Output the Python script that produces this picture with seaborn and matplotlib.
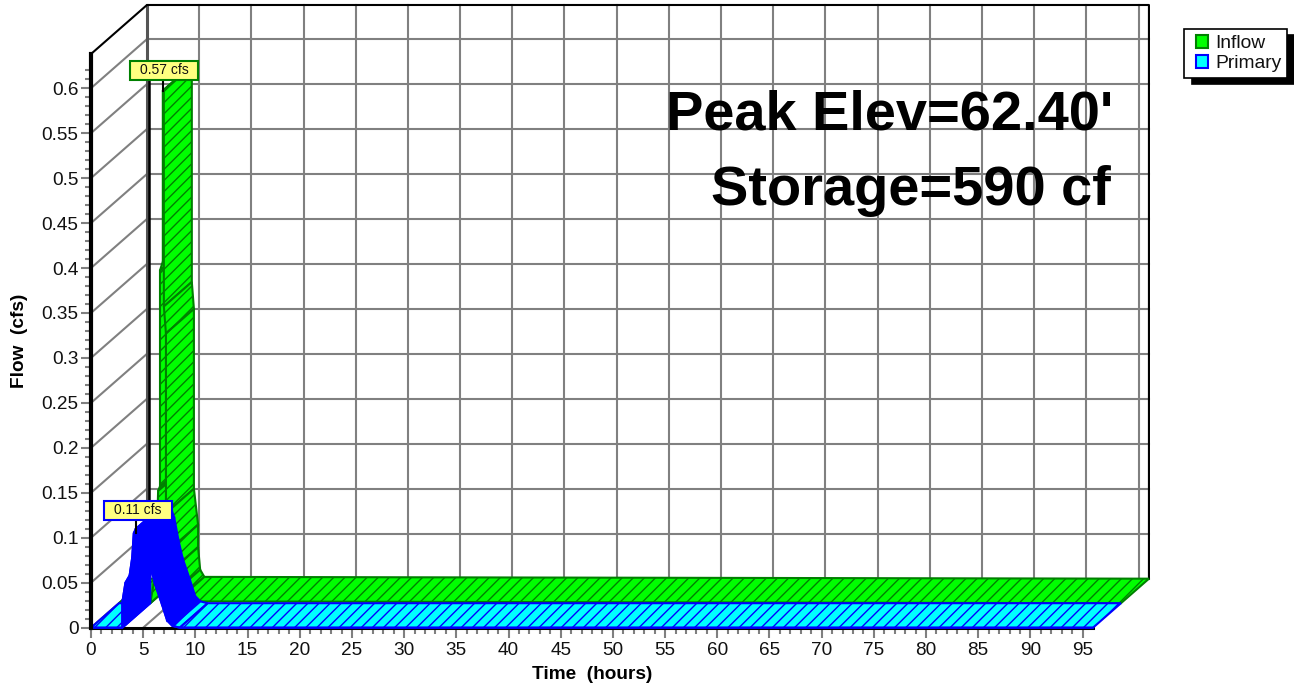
#!/usr/bin/env python3

import matplotlib.pyplot as plt
import numpy as np
import pandas as pd
import seaborn as sns
from matplotlib.patches import Patch, Rectangle

# hydrograph values
inflow_time = [0, 3.0, 3.3, 3.6, 3.75, 3.93, 3.93, 4.2, 4.2, 4.3, 4.3, 4.5, 4.5, 4.9, 4.9, 5.1, 5.5, 96]
inflow_flow = [0, 0, 0.02, 0.06, 0.125, 0.13, 0.37, 0.38, 0.57, 0.57, 0.33, 0.30, 0.10, 0.06, 0.035, 0.01, 0.002, 0]
primary_time = [0, 3.0, 3.0, 3.3, 3.7, 3.95, 4.1, 4.3, 5.0, 5.3, 5.7, 6.1, 6.8, 7.3, 7.8, 8.5, 96]
primary_flow = [0, 0, 0.028, 0.05, 0.058, 0.078, 0.105, 0.11, 0.105, 0.095, 0.07, 0.05, 0.026, 0.008, 0.002, 0, 0]

x_major = list(range(0, 100, 5))
y_major = [0, 0.05, 0.1, 0.15, 0.2, 0.25, 0.3, 0.35, 0.4, 0.45, 0.5, 0.55, 0.6]
x_max = 96
y_max = 0.638

# oblique depth of the chart box, in data units
depth_x = 5.36
depth_y = 0.0545

W, H = 1294, 686
GREY = "#808080"

sns.set_theme(style="white")
plt.rcParams["font.family"] = ["Liberation Sans", "DejaVu Sans"]
plt.rcParams["hatch.linewidth"] = 1.0

fig = plt.figure(figsize=(W / 100, H / 100), dpi=100)
ax = fig.add_axes([91 / W, 1 - 627.7 / H, 1002 / W, 573.7 / H])
ax.set_xlim(0, x_max)
ax.set_ylim(0, y_max)
ax.patch.set_visible(False)


def wall(xs, ys, **kw):
    ax.plot(xs, ys, clip_on=False, solid_capstyle="projecting", **kw)


# back wall and side wall grid
for t in x_major:
    if t > 0:
        wall([t + depth_x] * 2, [depth_y, y_max + depth_y], color=GREY, lw=1.5, zorder=1)
    wall([t, t + depth_x], [0, depth_y], color=GREY, lw=1.5, zorder=1)
for q in y_major:
    wall([depth_x, x_max + depth_x], [q + depth_y] * 2, color=GREY, lw=1.5, zorder=1)
    wall([0, depth_x], [q, q + depth_y], color=GREY, lw=1.5, zorder=1)
wall([depth_x] * 2, [depth_y, y_max + depth_y], color="#555555", lw=2.2, zorder=1.1)
wall([depth_x + 0.15] * 2, [0.125, 0.625], color="black", lw=1.8, zorder=1.2)
wall([0, depth_x, x_max + depth_x, x_max + depth_x],
     [y_max, y_max + depth_y, y_max + depth_y, depth_y], color="black", lw=1.5, zorder=1.2)
wall([0, x_max], [0, 0], color="black", lw=2.2, zorder=1.3)
wall([0, 0], [0, y_max], color="black", lw=3, zorder=5)


def ribbon(times, flows, near, far, face, edge, zorder, solid=None):
    # one slanted quad per time step, between two depths of the box
    for i in range(len(times) - 1):
        t0, t1 = times[i], times[i + 1]
        q0, q1 = flows[i], flows[i + 1]
        xs = [t0 + near * depth_x, t1 + near * depth_x, t1 + far * depth_x, t0 + far * depth_x]
        ys = [q0 + near * depth_y, q1 + near * depth_y, q1 + far * depth_y, q0 + far * depth_y]
        if solid is not None and solid[0] <= t0 < solid[1]:
            ax.fill(xs, ys, facecolor=edge, edgecolor=edge, lw=1.5, zorder=zorder, clip_on=False)
        else:
            ax.fill(xs, ys, facecolor=face, edgecolor=edge, hatch="///", lw=1.5, zorder=zorder, clip_on=False)


ribbon(inflow_time, inflow_flow, 0.5, 1.0, "#00FF00", "#008000", 2)
ribbon(primary_time, primary_flow, 0.0, 0.5, "#00FFFF", "#0000FF", 3, solid=(3.0, 7.8))

# front edge of the primary ribbon
edges = pd.DataFrame({"Time": primary_time, "Flow": primary_flow, "Series": "Primary"})
sns.lineplot(data=edges, x="Time", y="Flow", color="#0000FF", estimator=None, sort=False, lw=1.5,
             legend=False, ax=ax, zorder=4, clip_on=False)

ax.set_xlim(0, x_max)
ax.set_ylim(0, y_max)
for s in ax.spines.values():
    s.set_visible(False)

ax.set_xticks(x_major)
ax.set_xticklabels([str(t) for t in x_major], fontsize=13.7, color="#111111")
ax.set_yticks(y_major)
ax.set_yticklabels([f"{q:g}" for q in y_major], fontsize=13.7, color="#111111")
ax.set_xticks(np.arange(0, 96, 1), minor=True)
ax.set_yticks(np.arange(0, 0.63, 0.01), minor=True)
ax.tick_params(axis="both", which="major", bottom=True, left=True, length=7, width=1.5, color=GREY, pad=2)
ax.tick_params(axis="x", which="major", pad=3.5)
ax.tick_params(axis="both", which="minor", bottom=True, left=True, length=4.5, width=1.5, color=GREY)
ax.set_xlabel("Time  (hours)", fontsize=13.7, fontweight="bold", labelpad=5, color="black")
ax.set_ylabel("Flow  (cfs)", fontsize=13.7, fontweight="bold", labelpad=9.5, color="black")

# big annotation
fig.text(1113 / W, 1 - 129 / H, "Peak Elev=62.40'", fontsize=40.3, fontweight="bold", ha="right", va="baseline", color="black")
fig.text(1111 / W, 1 - 205 / H, "Storage=590 cf", fontsize=40.3, fontweight="bold", ha="right", va="baseline", color="black")


def peak_label(text, x0, y0, edge):
    fig.add_artist(Rectangle((x0, H - y0 - 19), 68, 19, transform=None, facecolor="#FFFF80", edgecolor=edge, lw=1.5, zorder=6))
    fig.text((x0 + 34) / W, 1 - (y0 + 9.5) / H, text, fontsize=10, ha="center", va="center", color="#111111", zorder=7)


wall([4.2 + 0.5 * depth_x] * 2, [0.57 + 0.5 * depth_y, 0.61], color="black", lw=1.5, zorder=4.5)
wall([4.3] * 2, [0.105, 0.12], color="black", lw=1.5, zorder=4.5)
peak_label(f"{max(inflow_flow):.2f} cfs", 130, 61, "#008000")
peak_label(f"{max(primary_flow):.2f} cfs", 104, 501, "#0000FF")

# legend with its black drop shadow
handles = [Patch(facecolor="#00FF00", edgecolor="#008000", lw=1.5, label="Inflow"),
           Patch(facecolor="#00FFFF", edgecolor="#0000FF", lw=1.5, label="Primary")]
leg = fig.legend(handles=handles, loc="upper left", bbox_to_anchor=(1184 / W, 1 - 29 / H), fontsize=13.9,
                 fancybox=False, framealpha=1, edgecolor="black", borderaxespad=0, borderpad=0.3,
                 handlelength=0.92, handleheight=0.68, handletextpad=0.4, labelspacing=0.15,
                 shadow={"color": "black", "alpha": 1, "ox": 6, "oy": -4})
leg.get_frame().set_linewidth(1.2)
for txt in leg.get_texts():
    txt.set_color("#111111")
# swatches sit at the right of their slot
for rect in leg.legend_handles:
    w = rect.get_width()
    rect.set_x(rect.get_x() + w - 8.6)
    rect.set_width(8.6)

fig.savefig("out.png", dpi=100)
